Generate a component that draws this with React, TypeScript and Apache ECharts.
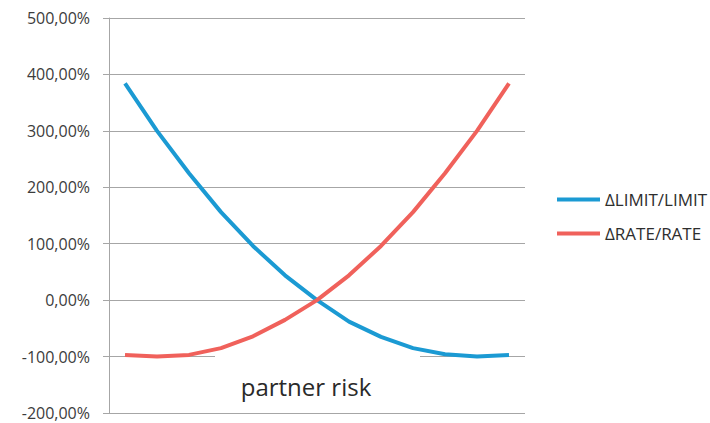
import React, { useEffect, useRef } from "react";
import * as echarts from "echarts";

const categories = ["1", "2", "3", "4", "5", "6", "7", "8", "9", "10", "11", "12", "13"];
const limitValues = [384, 300, 225, 156, 96, 44, 0, -38, -65, -85, -96, -100, -97];
const rateValues = [-97, -100, -97, -85, -64, -35, 0, 44, 96, 156, 225, 300, 384];
const seriesNames = ["ΔLIMIT/LIMIT", "ΔRATE/RATE"];
const axisTitle = "partner risk";
const yMin = -200;
const yMax = 500;
const yInterval = 100;

const FONT = "'Open Sans', 'Noto Sans', sans-serif";

export default function App() {
  const ref = useRef<HTMLDivElement>(null);
  useEffect(() => {
    if (!ref.current) return;
    const chart = echarts.init(ref.current, undefined, { renderer: "svg" });
    chart.setOption({
      animation: false,
      backgroundColor: "#ffffff",
      grid: { left: 109, right: 185, top: 18, bottom: 10, containLabel: false },
      xAxis: {
        type: "category",
        data: categories,
        boundaryGap: true,
        axisLine: { show: false },
        axisTick: { show: false },
        axisLabel: { show: false },
        splitLine: { show: false },
      },
      yAxis: {
        type: "value",
        min: yMin,
        max: yMax,
        interval: yInterval,
        axisLine: { show: true, lineStyle: { color: "#a6a6a6", width: 1 } },
        axisTick: { show: true, length: 6, lineStyle: { color: "#a6a6a6" } },
        splitLine: { show: true, lineStyle: { color: "#a6a6a6", width: 1 } },
        axisLabel: {
          margin: 19,
          color: "#3c3c3c",
          fontSize: 16,
          fontFamily: FONT,
          formatter: (v: number) => v.toFixed(2).replace(".", ",") + "%",
        },
      },
      legend: {
        orient: "vertical",
        left: 552,
        top: 186,
        itemWidth: 43,
        itemHeight: 4,
        itemGap: 17,
        icon: "rect",
        textStyle: { fontSize: 17, color: "#2e2e2e", fontFamily: FONT },
        data: seriesNames,
      },
      graphic: [
        {
          type: "rect",
          z: 1,
          shape: { x: 215, y: 352, width: 205, height: 56 },
          style: { fill: "#ffffff" },
        },
        {
          type: "text",
          z: 1,
          x: 306,
          y: 386,
          style: {
            text: axisTitle,
            fontSize: 24,
            fontFamily: FONT,
            fill: "#2a2a2a",
            align: "center",
            verticalAlign: "middle",
          },
        },
      ],
      series: [
        {
          name: seriesNames[0],
          type: "line",
          data: limitValues,
          smooth: false,
          showSymbol: false,
          symbol: "none",
          z: 3,
          lineStyle: { color: "#1b9ad3", width: 4 },
          itemStyle: { color: "#1b9ad3" },
        },
        {
          name: seriesNames[1],
          type: "line",
          data: rateValues,
          smooth: false,
          showSymbol: false,
          symbol: "none",
          z: 3,
          lineStyle: { color: "#f0615b", width: 4 },
          itemStyle: { color: "#f0615b" },
        },
      ],
    });
    return () => chart.dispose();
  }, []);
  return <div ref={ref} style={{ width: 710, height: 423, position: "absolute", left: 0, top: 0 }} />;
}
